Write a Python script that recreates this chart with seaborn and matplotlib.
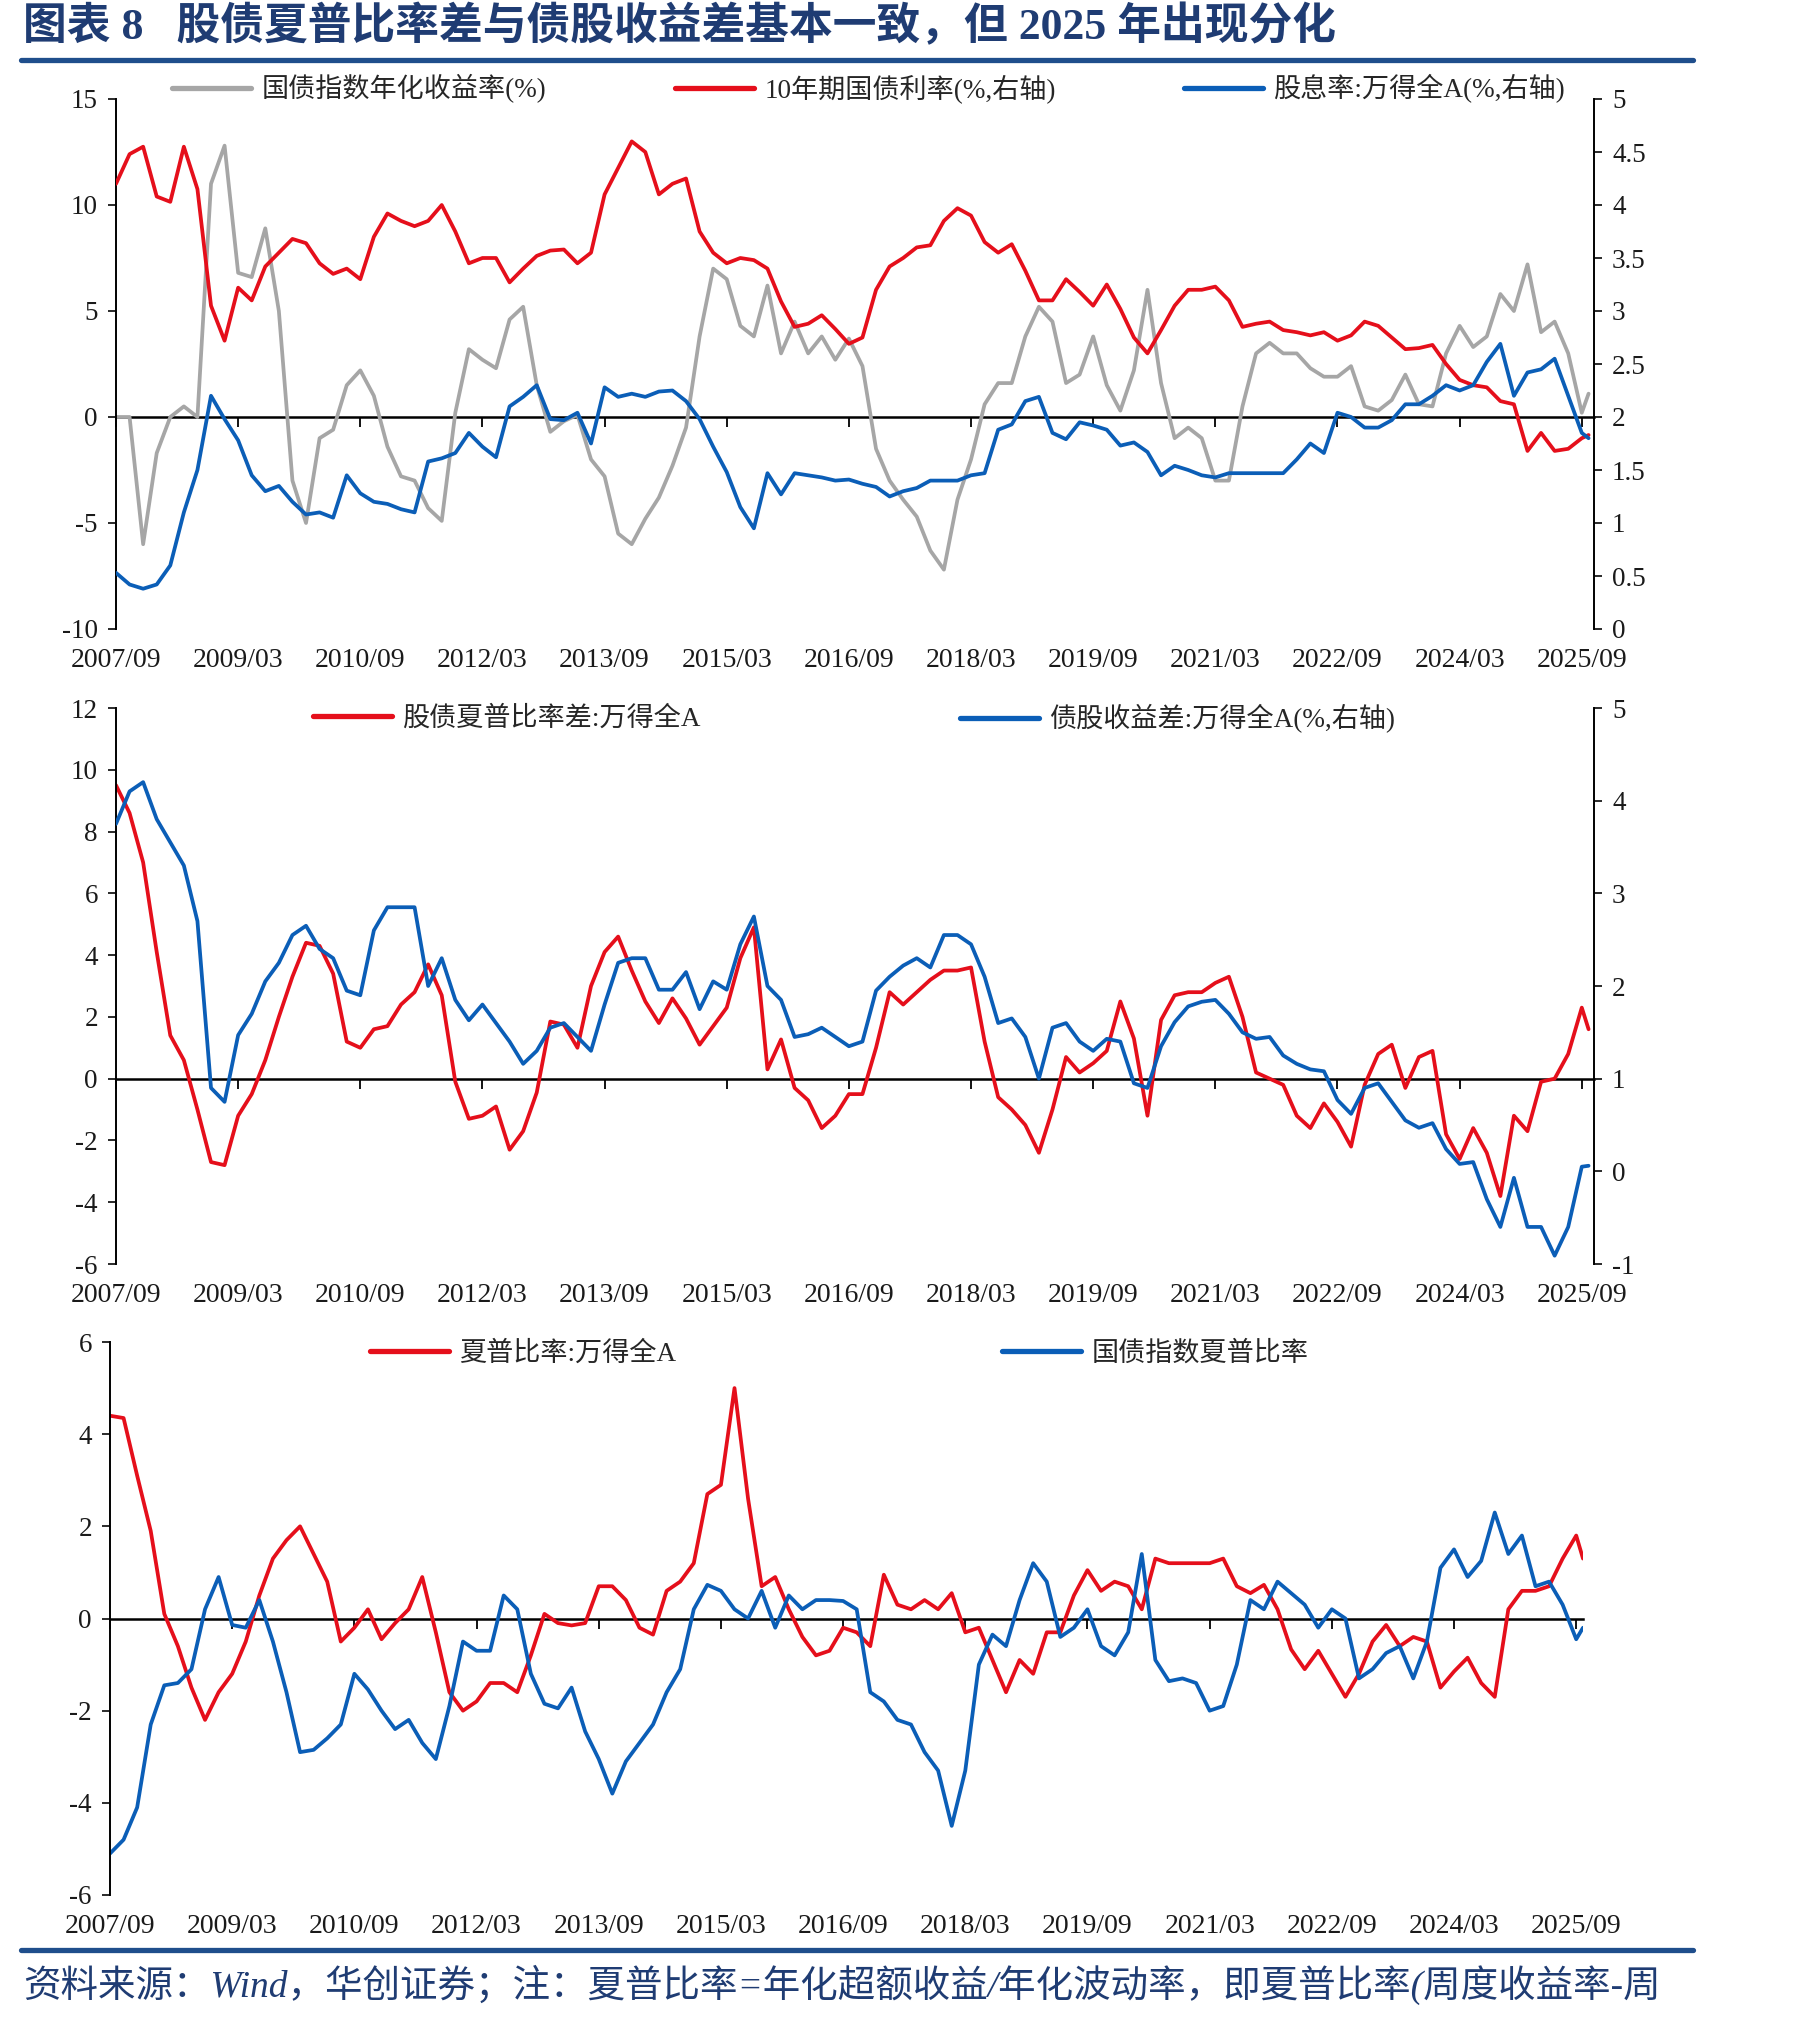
import matplotlib
matplotlib.use("Agg")
import matplotlib.pyplot as plt
from matplotlib.lines import Line2D
import seaborn as sns
import pandas as pd

# ---------------- data ----------------
# month offsets since 2007/09 (read every two months, last point 2025/10)
month_index = list(range(0, 217, 2)) + [217]

tick_months = [0, 18, 36, 54, 72, 90, 108, 126, 144, 162, 180, 198, 216]
tick_labels = ["2007/09", "2009/03", "2010/09", "2012/03", "2013/09", "2015/03",
               "2016/09", "2018/03", "2019/09", "2021/03", "2022/09", "2024/03", "2025/09"]

# panel 1
gov_bond_ann_return = [
    0, 0, -6.0, -1.7, 0, 0.5, 0, 11.0, 12.8, 6.8,
    6.6, 8.9, 5.0, -3.0, -5.0, -1.0, -0.6, 1.5, 2.2, 1.0,
    -1.4, -2.8, -3.0, -4.3, -4.9, 0.2, 3.2, 2.7, 2.3, 4.6,
    5.2, 1.5, -0.7, -0.2, 0.1, -2.0, -2.8, -5.5, -6.0, -4.8,
    -3.8, -2.3, -0.5, 3.8, 7.0, 6.5, 4.3, 3.8, 6.2, 3.0,
    4.5, 3.0, 3.8, 2.7, 3.7, 2.4, -1.5, -3.0,
    -3.9, -4.7, -6.3, -7.2, -3.9, -2.0, 0.6, 1.6, 1.6, 3.8,
    5.2, 4.5, 1.6, 2.0, 3.8, 1.5, 0.3, 2.2, 6.0, 1.6,
    -1.0, -0.5, -1.0, -3.0, -3.0, 0.5, 3.0, 3.5, 3.0, 3.0,
    2.3, 1.9, 1.9, 2.4, 0.5, 0.3, 0.8, 2.0, 0.6, 0.5,
    3.0, 4.3, 3.3, 3.8, 5.8, 5.0, 7.2, 4.0, 4.5, 3.0,
    0.2, 1.1]
cgb10y_yield = [
    4.2, 4.48, 4.55, 4.08, 4.03, 4.55, 4.15, 3.05, 2.72, 3.22,
    3.1, 3.42, 3.55, 3.68, 3.64, 3.45, 3.35, 3.4, 3.3, 3.7,
    3.92, 3.85, 3.8, 3.85, 4.0, 3.75, 3.45, 3.5, 3.5, 3.27,
    3.4, 3.52, 3.57, 3.58, 3.45, 3.55, 4.1, 4.35, 4.6, 4.5,
    4.1, 4.2, 4.25, 3.75, 3.55, 3.45, 3.5, 3.48, 3.4, 3.09,
    2.85, 2.88, 2.96, 2.83, 2.69, 2.75, 3.2, 3.42,
    3.5, 3.6, 3.62, 3.85, 3.97, 3.9, 3.65, 3.55, 3.63, 3.38,
    3.1, 3.1, 3.3, 3.18, 3.05, 3.25, 3.02, 2.75, 2.6, 2.82,
    3.05, 3.2, 3.2, 3.23, 3.1, 2.85, 2.88, 2.9, 2.82, 2.8,
    2.77, 2.8, 2.72, 2.77, 2.9, 2.86, 2.75, 2.64, 2.65, 2.68,
    2.5, 2.35, 2.3, 2.28, 2.15, 2.12, 1.68, 1.85, 1.68, 1.7,
    1.8, 1.83]
dividend_yield = [
    0.53, 0.42, 0.38, 0.42, 0.6, 1.1, 1.5, 2.2, 1.98, 1.78,
    1.45, 1.3, 1.35, 1.2, 1.08, 1.1, 1.05, 1.45, 1.28, 1.2,
    1.18, 1.13, 1.1, 1.58, 1.61, 1.66, 1.85, 1.72, 1.62, 2.1,
    2.19, 2.3, 1.98, 1.97, 2.04, 1.75, 2.28, 2.19, 2.22, 2.19,
    2.24, 2.25, 2.15, 1.98, 1.72, 1.48, 1.15, 0.95, 1.47, 1.27,
    1.47, 1.45, 1.43, 1.4, 1.41, 1.37, 1.34, 1.25,
    1.3, 1.33, 1.4, 1.4, 1.4, 1.45, 1.47, 1.88, 1.93, 2.15,
    2.19, 1.85, 1.79, 1.95, 1.92, 1.88, 1.73, 1.76, 1.67, 1.45,
    1.54, 1.5, 1.45, 1.43, 1.47, 1.47, 1.47, 1.47, 1.47, 1.6,
    1.75, 1.66, 2.04, 2.0, 1.9, 1.9, 1.97, 2.12, 2.12, 2.2,
    2.3, 2.25, 2.3, 2.52, 2.69, 2.2, 2.42, 2.45, 2.55, 2.2,
    1.85, 1.8]

# panel 2
sharpe_diff = [
    9.5, 8.6, 7.0, 4.1, 1.4, 0.6, -1.0, -2.7, -2.8, -1.2,
    -0.5, 0.6, 2.0, 3.3, 4.4, 4.3, 3.4, 1.2, 1.0, 1.6,
    1.7, 2.4, 2.8, 3.7, 2.7, -0.1, -1.3, -1.2, -0.9, -2.3,
    -1.7, -0.45, 1.85, 1.75, 1.0, 3.0, 4.1, 4.6, 3.5, 2.5,
    1.8, 2.6, 1.95, 1.1, 1.7, 2.3, 3.9, 4.9, 0.3, 1.27,
    -0.3, -0.7, -1.6, -1.2, -0.5, -0.5, 1.0, 2.8,
    2.4, 2.8, 3.2, 3.5, 3.5, 3.6, 1.2, -0.6, -1.0, -1.5,
    -2.4, -1.0, 0.7, 0.2, 0.5, 0.9, 2.5, 1.3, -1.2, 1.9,
    2.7, 2.8, 2.8, 3.1, 3.3, 2.0, 0.2, 0.0, -0.2, -1.2,
    -1.6, -0.8, -1.4, -2.2, -0.2, 0.8, 1.1, -0.3, 0.7, 0.9,
    -1.8, -2.6, -1.6, -2.4, -3.8, -1.2, -1.7, -0.1, 0.0, 0.8,
    2.3, 1.6]
bond_equity_spread = [
    3.75, 4.1, 4.2, 3.8, 3.55, 3.3, 2.7, 0.9, 0.75, 1.47,
    1.7, 2.05, 2.25, 2.55, 2.65, 2.4, 2.3, 1.95, 1.9, 2.6,
    2.85, 2.85, 2.85, 2.0, 2.3, 1.85, 1.63, 1.8, 1.6, 1.4,
    1.16, 1.3, 1.55, 1.6, 1.45, 1.3, 1.8, 2.25, 2.3, 2.3,
    1.96, 1.96, 2.15, 1.75, 2.05, 1.96, 2.45, 2.75, 2.0, 1.85,
    1.45, 1.48, 1.55, 1.45, 1.35, 1.4, 1.95, 2.1,
    2.22, 2.3, 2.2, 2.55, 2.55, 2.45, 2.1, 1.6, 1.65, 1.45,
    1.0, 1.55, 1.6, 1.4, 1.3, 1.43, 1.4, 0.95, 0.9, 1.35,
    1.61, 1.78, 1.83, 1.85, 1.7, 1.5, 1.43, 1.45, 1.25, 1.16,
    1.1, 1.08, 0.77, 0.62, 0.9, 0.95, 0.75, 0.55, 0.47, 0.52,
    0.24, 0.08, 0.1, -0.3, -0.6, -0.07, -0.6, -0.6, -0.91, -0.6,
    0.05, 0.06]

# panel 3
sharpe_wind_a = [
    4.4, 4.35, 3.1, 1.9, 0.1, -0.6, -1.5, -2.2, -1.6, -1.2,
    -0.5, 0.5, 1.3, 1.7, 2.0, 1.4, 0.8, -0.5, -0.2, 0.2,
    -0.45, -0.1, 0.2, 0.9, -0.3, -1.6, -2.0, -1.8, -1.4, -1.4,
    -1.6, -0.8, 0.1, -0.1, -0.15, -0.1, 0.7, 0.7, 0.4, -0.2,
    -0.35, 0.6, 0.8, 1.2, 2.7, 2.9, 5.0, 2.6, 0.7, 0.9,
    0.2, -0.4, -0.8, -0.7, -0.2, -0.3, -0.6, 0.95,
    0.3, 0.2, 0.4, 0.2, 0.55, -0.3, -0.2, -0.9, -1.6, -0.9,
    -1.2, -0.3, -0.3, 0.5, 1.05, 0.6, 0.8, 0.7, 0.2, 1.3,
    1.2, 1.2, 1.2, 1.2, 1.3, 0.7, 0.55, 0.73, 0.2, -0.67,
    -1.1, -0.7, -1.2, -1.7, -1.2, -0.5, -0.14, -0.6, -0.4, -0.5,
    -1.5, -1.15, -0.85, -1.4, -1.7, 0.2, 0.6, 0.6, 0.7, 1.3,
    1.8, 1.3]
sharpe_gov_bond = [
    -5.1, -4.8, -4.1, -2.3, -1.45, -1.4, -1.1, 0.2, 0.9, -0.14,
    -0.2, 0.4, -0.5, -1.6, -2.9, -2.85, -2.6, -2.3, -1.2, -1.54,
    -2.0, -2.4, -2.2, -2.7, -3.05, -1.9, -0.5, -0.7, -0.7, 0.5,
    0.2, -1.2, -1.85, -1.95, -1.5, -2.45, -3.05, -3.8, -3.1, -2.7,
    -2.3, -1.6, -1.1, 0.2, 0.73, 0.6, 0.2, 0.0, 0.6, -0.2,
    0.5, 0.2, 0.4, 0.4, 0.38, 0.2, -1.6, -1.8,
    -2.2, -2.3, -2.9, -3.3, -4.5, -3.3, -1.0, -0.35, -0.6, 0.4,
    1.2, 0.8, -0.4, -0.2, 0.2, -0.6, -0.8, -0.3, 1.4, -0.9,
    -1.36, -1.3, -1.4, -2.0, -1.9, -1.0, 0.4, 0.2, 0.8, 0.55,
    0.3, -0.2, 0.2, 0.0, -1.3, -1.1, -0.75, -0.6, -1.3, -0.5,
    1.1, 1.5, 0.9, 1.25, 2.3, 1.4, 1.8, 0.7, 0.8, 0.3,
    -0.45, -0.2]

p1_left_ticks = [-10, -5, 0, 5, 10, 15]
p1_right_ticks = [0, 0.5, 1, 1.5, 2, 2.5, 3, 3.5, 4, 4.5, 5]
p1_right_labels = ["0", "0.5", "1", "1.5", "2", "2.5", "3", "3.5", "4", "4.5", "5"]
p2_left_ticks = [-6, -4, -2, 0, 2, 4, 6, 8, 10, 12]
p2_right_ticks = [-1, 0, 1, 2, 3, 4, 5]
p3_left_ticks = [-6, -4, -2, 0, 2, 4, 6]

for arr in (gov_bond_ann_return, cgb10y_yield, dividend_yield, sharpe_diff,
            bond_equity_spread, sharpe_wind_a, sharpe_gov_bond):
    assert len(arr) == len(month_index), len(arr)

# ---------------- style ----------------
sns.set_style("white")
plt.rcParams['font.family'] = ['Liberation Serif', 'Noto Sans CJK SC', 'DejaVu Sans']
plt.rcParams['axes.unicode_minus'] = False

RED = '#E50F1B'
BLUE = '#0B5EB7'
GRAY = '#A6A6A6'
NAVY = '#1F3C73'
TXT = '#1A1A1A'
LW = 2.7

W, H = 1801, 2018
fig = plt.figure(figsize=(W / 100, H / 100), dpi=100)


def fx(px):
    return px / W


def fy(py):
    return 1 - py / H


def make_axes(left, right, top, bottom):
    return fig.add_axes([fx(left), fy(bottom), (right - left) / W, (bottom - top) / H])


def style_left(ax, yticks, ylim, xmax, zero_frac):
    ax.set_xlim(0, xmax)
    ax.set_ylim(*ylim)
    ax.set_yticks(yticks)
    ax.set_yticklabels([str(t) for t in yticks])
    ax.set_xticks(tick_months)
    ax.set_xticklabels(tick_labels)
    for s in ('top', 'bottom', 'right'):
        ax.spines[s].set_visible(False)
    ax.spines['left'].set_color('black')
    ax.spines['left'].set_linewidth(1.4)
    ax.tick_params(axis='y', direction='out', length=6, width=1.3, pad=7,
                   labelsize=19.5, colors=TXT, left=True)
    ax.tick_params(axis='x', length=0, pad=14, labelsize=20, colors=TXT)
    ax.set_xlabel('')
    ax.set_ylabel('')
    ax.grid(False)
    sec = ax.secondary_xaxis(zero_frac)
    sec.set_alignment('bottom')
    sec.set_xticks(tick_months)
    sec.tick_params(axis='x', direction='out', length=7, width=1.3,
                    labelbottom=False, labeltop=False, colors='black')
    sec.spines['bottom'].set_linewidth(1.8)
    sec.spines['bottom'].set_color('black')
    sec.spines['top'].set_visible(False)
    return sec


def style_right(ax2, yticks, labels, ylim):
    ax2.set_ylim(*ylim)
    ax2.set_yticks(yticks)
    ax2.set_yticklabels(labels)
    for s in ('top', 'bottom', 'left'):
        ax2.spines[s].set_visible(False)
    ax2.spines['right'].set_color('black')
    ax2.spines['right'].set_linewidth(1.4)
    ax2.tick_params(axis='y', direction='out', length=6, width=1.3, pad=7,
                    labelsize=19.5, colors=TXT, right=True)
    ax2.set_xlabel('')
    ax2.set_ylabel('')
    ax2.grid(False)


def line(ax, y, color):
    df = pd.DataFrame({'m': month_index, 'v': y})
    sns.lineplot(data=df, x='m', y='v', ax=ax, color=color, linewidth=LW,
                 estimator=None, sort=False, legend=False)


def legend_item(label, color, x_px, y_px):
    h = Line2D([], [], color=color, lw=3.8)
    fig.legend(handles=[h], labels=[label], loc='center left',
               bbox_to_anchor=(fx(x_px), fy(y_px)), frameon=False,
               handlelength=2.9, handletextpad=0.4, borderpad=0,
               borderaxespad=0, fontsize=19.5, labelcolor='#262626')


XMAX12 = 217.8

# ---------------- panel 1 ----------------
ax1 = make_axes(116, 1594, 99, 629)
line(ax1, gov_bond_ann_return, GRAY)
ax1r = ax1.twinx()
line(ax1r, cgb10y_yield, RED)
line(ax1r, dividend_yield, BLUE)
style_left(ax1, p1_left_ticks, (-10, 15), XMAX12, 0.4)
style_right(ax1r, p1_right_ticks, p1_right_labels, (0, 5))
ax1r.set_xlim(0, XMAX12)

legend_item("国债指数年化收益率(%)", GRAY, 172, 89)
legend_item("10年期国债利率(%,右轴)", RED, 675, 89)
legend_item("股息率:万得全A(%,右轴)", BLUE, 1184, 89)

# ---------------- panel 2 ----------------
ax2 = make_axes(116, 1594, 708, 1264)
line(ax2, sharpe_diff, RED)
ax2r = ax2.twinx()
line(ax2r, bond_equity_spread, BLUE)
style_left(ax2, p2_left_ticks, (-6, 12), XMAX12, 6 / 18)
style_right(ax2r, p2_right_ticks, [str(t) for t in p2_right_ticks], (-1, 5))
ax2r.set_xlim(0, XMAX12)

legend_item("股债夏普比率差:万得全A", RED, 313, 719)
legend_item("债股收益差:万得全A(%,右轴)", BLUE, 960, 719)

# ---------------- panel 3 ----------------
ax3 = make_axes(110, 1583, 1342, 1895)
line(ax3, sharpe_wind_a, RED)
line(ax3, sharpe_gov_bond, BLUE)
style_left(ax3, p3_left_ticks, (-6, 6), 217.0, 0.5)

legend_item("夏普比率:万得全A", RED, 370, 1354)
legend_item("国债指数夏普比率", BLUE, 1002, 1354)

# ---------------- title, rules, footer ----------------
fig.text(fx(23), fy(27), "图表 8   股债夏普比率差与债股收益差基本一致，但 2025 年出现分化",
         fontsize=31.5, fontweight='bold', color=NAVY, ha='left', va='center')
fig.add_artist(Line2D([fx(21), fx(1693)], [fy(60), fy(60)], lw=3.8, color='#1F4E8C'))
fig.add_artist(Line2D([fx(21), fx(1693)], [fy(1950), fy(1950)], lw=3.8, color='#1F4E8C'))
fig.text(fx(23), fy(1985),
         "资料来源：Wind，华创证券；注：夏普比率=年化超额收益/年化波动率，即夏普比率(周度收益率-周",
         fontsize=27, style='italic', color=NAVY, ha='left', va='center')

fig.savefig("out.png", dpi=100, facecolor='white')
